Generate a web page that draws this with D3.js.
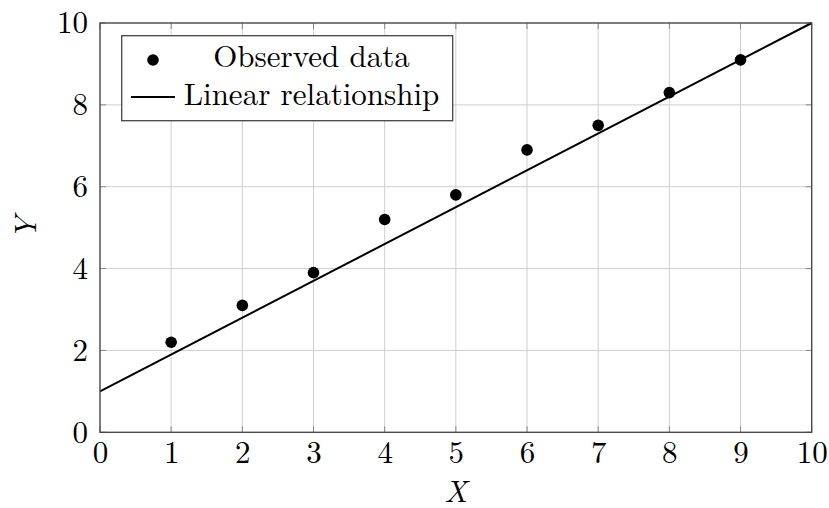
<!DOCTYPE html>
<html>
<head>
<meta charset="utf-8">
<script src="https://cdn.jsdelivr.net/npm/d3@7"></script>
<style>
  body { margin: 0; background: #fff; }
  text { font-family: "Latin Modern Roman", "Liberation Serif", serif; fill: #000; }
</style>
</head>
<body>
<div id="chart"></div>
<script>
// observed points
var xObs = [1, 2, 3, 4, 5, 6, 7, 8, 9];
var yObs = [2.2, 3.1, 3.9, 5.2, 5.8, 6.9, 7.5, 8.3, 9.1];
// fitted line endpoints (y = 1 + 0.9x)
var xLine = [0, 10];
var yLine = [1, 10];
var xTicks = [0, 1, 2, 3, 4, 5, 6, 7, 8, 9, 10];
var yTicks = [0, 2, 4, 6, 8, 10];
var legendLabels = ["Observed data", "Linear relationship"];

var W = 829, H = 508;
var margin = {top: 23, right: 17.3, bottom: 75.7, left: 100};
var w = W - margin.left - margin.right;
var h = H - margin.top - margin.bottom;
var fs = 31;

var svg = d3.select("#chart").append("svg")
  .attr("width", W).attr("height", H);

var g = svg.append("g")
  .attr("transform", "translate(" + margin.left + "," + margin.top + ")");

var x = d3.scaleLinear().domain([0, 10]).range([0, w]);
var y = d3.scaleLinear().domain([0, 10]).range([h, 0]);

// grid
g.selectAll(".gx").data(xTicks).enter().append("line")
  .attr("x1", function(d) { return x(d); }).attr("x2", function(d) { return x(d); })
  .attr("y1", 0).attr("y2", h)
  .attr("stroke", "#cfcfcf").attr("stroke-width", 1);
g.selectAll(".gy").data(yTicks).enter().append("line")
  .attr("y1", function(d) { return y(d); }).attr("y2", function(d) { return y(d); })
  .attr("x1", 0).attr("x2", w)
  .attr("stroke", "#cfcfcf").attr("stroke-width", 1);

// inner ticks, pgfplots style
var tl = 6;
xTicks.forEach(function(d) {
  g.append("line").attr("x1", x(d)).attr("x2", x(d)).attr("y1", h).attr("y2", h - tl)
    .attr("stroke", "#888");
  g.append("line").attr("x1", x(d)).attr("x2", x(d)).attr("y1", 0).attr("y2", tl)
    .attr("stroke", "#888");
});
yTicks.forEach(function(d) {
  g.append("line").attr("y1", y(d)).attr("y2", y(d)).attr("x1", 0).attr("x2", tl)
    .attr("stroke", "#888");
  g.append("line").attr("y1", y(d)).attr("y2", y(d)).attr("x1", w).attr("x2", w - tl)
    .attr("stroke", "#888");
});

// tick labels via d3 axes (no lines)
var xAxis = g.append("g").attr("transform", "translate(0," + h + ")")
  .call(d3.axisBottom(x).tickValues(xTicks).tickSize(0).tickFormat(d3.format("d")));
var yAxis = g.append("g")
  .call(d3.axisLeft(y).tickValues(yTicks).tickSize(0).tickPadding(12).tickFormat(d3.format("d")));
[xAxis, yAxis].forEach(function(a) {
  a.select(".domain").remove();
  a.selectAll("text").attr("font-family", null).attr("font-size", fs).attr("fill", "#000");
});
xAxis.selectAll("text").attr("y", 31).attr("dy", null);
yAxis.selectAll("text").attr("dy", "0.32em");

// line
g.append("line")
  .attr("x1", x(xLine[0])).attr("y1", y(yLine[0]))
  .attr("x2", x(xLine[1])).attr("y2", y(yLine[1]))
  .attr("stroke", "#000").attr("stroke-width", 2);

// points
g.selectAll(".pt").data(xObs).enter().append("circle")
  .attr("cx", function(d) { return x(d); })
  .attr("cy", function(d, i) { return y(yObs[i]); })
  .attr("r", 5.8).attr("fill", "#000");

// frame
g.append("rect").attr("x", 0).attr("y", 0).attr("width", w).attr("height", h)
  .attr("fill", "none").attr("stroke", "#444").attr("stroke-width", 1.3);

// axis titles
svg.append("text").attr("x", margin.left + w / 2).attr("y", 502)
  .attr("text-anchor", "middle").attr("font-size", fs).attr("font-style", "italic")
  .text("X");
svg.append("text").attr("transform", "translate(36," + (margin.top + h / 2) + ") rotate(-90)")
  .attr("text-anchor", "middle").attr("font-size", fs).attr("font-style", "italic")
  .text("Y");

// legend
var lg = svg.append("g");
lg.append("rect").attr("x", 121.7).attr("y", 35.7).attr("width", 331).attr("height", 85)
  .attr("fill", "#fff").attr("stroke", "#444").attr("stroke-width", 1.3);
lg.append("circle").attr("cx", 153).attr("cy", 60).attr("r", 5.8).attr("fill", "#000");
lg.append("line").attr("x1", 131).attr("x2", 175).attr("y1", 97).attr("y2", 97)
  .attr("stroke", "#000").attr("stroke-width", 2);
lg.selectAll(".lt").data(legendLabels).enter().append("text")
  .attr("x", 311.5).attr("y", function(d, i) { return 67 + i * 38; })
  .attr("text-anchor", "middle").attr("font-size", fs)
  .text(function(d) { return d; });
</script>
</body>
</html>
